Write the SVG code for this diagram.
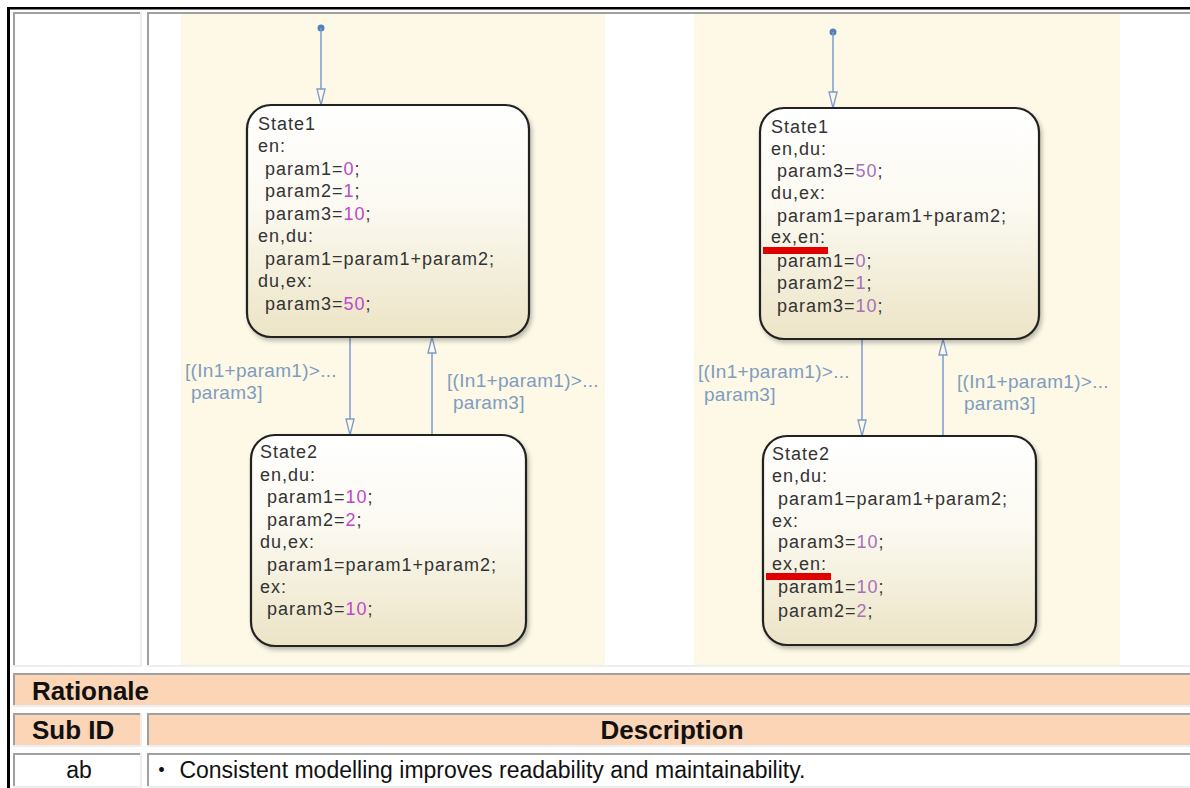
<svg xmlns="http://www.w3.org/2000/svg" width="1190" height="788" viewBox="0 0 1190 788">
<style>
.dk{fill:#a0a0a0}
.lt{fill:#eeeeee}
.peach{fill:#fbd5b5}
.cream{fill:#fdf9e6}
.st{font-family:"Liberation Sans",Arial,sans-serif;font-size:18px;letter-spacing:1px;fill:#333}
.num{fill:#c048c8}
.num2{fill:#a870b8}
.lbl{font-family:"Liberation Sans",Arial,sans-serif;font-size:19px;letter-spacing:0.3px;fill:#7f9cc0}
.box{fill:url(#g);stroke:#222;stroke-width:2.2}
.tr{stroke:#7a9ccc;stroke-width:1.5;fill:none}
.hd{font-family:"Liberation Sans",Arial,sans-serif;font-size:26px;font-weight:bold;fill:#111}
.tx{font-family:"Liberation Sans","Noto Sans CJK JP",Arial,sans-serif;font-size:23px;fill:#111}
.red{fill:#e00000}
</style>
<defs>
<linearGradient id="g" x1="0" y1="0" x2="0" y2="1">
<stop offset="0" stop-color="#ffffff"/>
<stop offset="0.45" stop-color="#fbf9f0"/>
<stop offset="1" stop-color="#ece4c6"/>
</linearGradient>
<filter id="sh" x="-10%" y="-10%" width="130%" height="130%">
<feDropShadow dx="2" dy="3" stdDeviation="2" flood-color="#000" flood-opacity="0.25"/>
</filter>
<marker id="ah" viewBox="0 0 18 10" refX="17" refY="5" markerWidth="18" markerHeight="10" markerUnits="userSpaceOnUse" orient="auto">
<path d="M1,1 L17,5 L1,9 Z" fill="#fdf9e6" stroke="#7a9ccc" stroke-width="1.3"/>
</marker>
</defs>
<rect width="1190" height="788" fill="#ffffff"/>

<g id="table">
<rect x="7" y="7" width="1183" height="2.5" fill="#000"/>
<rect x="7" y="7" width="3" height="781" fill="#000"/>
<!-- row 1 -->
<rect class="dk" x="13" y="12" width="129" height="2"/>
<rect class="dk" x="13" y="12" width="2" height="655"/>
<rect class="lt" x="140" y="12" width="2" height="655"/>
<rect class="lt" x="13" y="665" width="129" height="2"/>
<rect class="dk" x="147" y="12" width="1043" height="2"/>
<rect class="dk" x="147" y="12" width="2" height="655"/>
<rect class="lt" x="147" y="665" width="1043" height="2"/>
<!-- row 2 -->
<rect class="peach" x="13" y="673" width="1177" height="34"/>
<rect class="dk" x="13" y="673" width="1177" height="2"/>
<rect class="dk" x="13" y="673" width="2" height="34"/>
<rect class="lt" x="13" y="705" width="1177" height="2"/>
<!-- row 3 -->
<rect class="peach" x="13" y="713" width="129" height="34"/>
<rect class="dk" x="13" y="713" width="129" height="2"/>
<rect class="dk" x="13" y="713" width="2" height="34"/>
<rect class="lt" x="140" y="713" width="2" height="34"/>
<rect class="lt" x="13" y="745" width="129" height="2"/>
<rect class="peach" x="147" y="713" width="1043" height="34"/>
<rect class="dk" x="147" y="713" width="1043" height="2"/>
<rect class="dk" x="147" y="713" width="2" height="34"/>
<rect class="lt" x="147" y="745" width="1043" height="2"/>
<!-- row 4 -->
<rect class="dk" x="13" y="753" width="129" height="2"/>
<rect class="dk" x="13" y="753" width="2" height="35"/>
<rect class="lt" x="140" y="753" width="2" height="35"/>
<rect class="lt" x="13" y="786" width="129" height="2"/>
<rect class="dk" x="147" y="753" width="1043" height="2"/>
<rect class="dk" x="147" y="753" width="2" height="35"/>
<rect class="lt" x="147" y="786" width="1043" height="2"/>
<text class="hd" x="32" y="700">Rationale</text>
<text class="hd" x="32" y="739">Sub ID</text>
<text class="hd" x="672" y="739" text-anchor="middle">Description</text>
<text class="tx" x="79" y="778" text-anchor="middle">ab</text>
<text class="tx" x="150" y="778">・ Consistent modelling improves readability and maintainability.</text>
</g>

<!-- left chart -->
<rect class="cream" x="181" y="14" width="424" height="651"/>
<g id="left-connectors">
<circle cx="321" cy="28" r="3.5" fill="#4f82c0"/>
<line class="tr" x1="321" y1="28" x2="321" y2="105" marker-end="url(#ah)"/>
<line class="tr" x1="350" y1="337" x2="350" y2="435" marker-end="url(#ah)"/>
<line class="tr" x1="432" y1="435" x2="432" y2="337" marker-end="url(#ah)"/>
<text class="lbl" x="185" y="377">[(In1+param1)&gt;...</text>
<text class="lbl" x="191" y="399">param3]</text>
<text class="lbl" x="447" y="387">[(In1+param1)&gt;...</text>
<text class="lbl" x="453" y="409">param3]</text>
</g>
<g id="left-state1">
<rect class="box" x="247" y="105" width="282" height="232" rx="24" filter="url(#sh)"/>
<text class="st" x="258" y="130">State1</text>
<text class="st" x="258" y="152">en:</text>
<text class="st" x="265" y="175">param1=<tspan class="num">0</tspan>;</text>
<text class="st" x="265" y="197">param2=<tspan class="num">1</tspan>;</text>
<text class="st" x="265" y="220">param3=<tspan class="num">10</tspan>;</text>
<text class="st" x="258" y="242">en,du:</text>
<text class="st" x="265" y="265">param1=param1+param2;</text>
<text class="st" x="258" y="287">du,ex:</text>
<text class="st" x="265" y="310">param3=<tspan class="num">50</tspan>;</text>
</g>
<g id="left-state2">
<rect class="box" x="251" y="435" width="275" height="211" rx="24" filter="url(#sh)"/>
<text class="st" x="260" y="458">State2</text>
<text class="st" x="260" y="481">en,du:</text>
<text class="st" x="267" y="503">param1=<tspan class="num">10</tspan>;</text>
<text class="st" x="267" y="526">param2=<tspan class="num">2</tspan>;</text>
<text class="st" x="260" y="548">du,ex:</text>
<text class="st" x="267" y="571">param1=param1+param2;</text>
<text class="st" x="260" y="593">ex:</text>
<text class="st" x="267" y="615">param3=<tspan class="num">10</tspan>;</text>
</g>

<!-- right chart -->
<rect class="cream" x="694" y="14" width="426" height="651"/>
<g id="right-connectors">
<circle cx="833" cy="32" r="3.5" fill="#4f82c0"/>
<line class="tr" x1="833" y1="32" x2="833" y2="108" marker-end="url(#ah)"/>
<line class="tr" x1="862" y1="339" x2="862" y2="436" marker-end="url(#ah)"/>
<line class="tr" x1="943" y1="436" x2="943" y2="339" marker-end="url(#ah)"/>
<text class="lbl" x="698" y="378">[(In1+param1)&gt;...</text>
<text class="lbl" x="704" y="401">param3]</text>
<text class="lbl" x="957" y="388">[(In1+param1)&gt;...</text>
<text class="lbl" x="964" y="410">param3]</text>
</g>
<g id="right-state1">
<rect class="box" x="760" y="108" width="279" height="231" rx="24" filter="url(#sh)"/>
<text class="st" x="771" y="133">State1</text>
<text class="st" x="771" y="155">en,du:</text>
<text class="st" x="777" y="177">param3=<tspan class="num2">50</tspan>;</text>
<text class="st" x="771" y="199">du,ex:</text>
<text class="st" x="777" y="222">param1=param1+param2;</text>
<text class="st" x="771" y="243">ex,en:</text>
<rect class="red" x="763" y="247" width="65" height="7"/>
<text class="st" x="777" y="267">param1=<tspan class="num2">0</tspan>;</text>
<text class="st" x="777" y="289">param2=<tspan class="num2">1</tspan>;</text>
<text class="st" x="777" y="312">param3=<tspan class="num2">10</tspan>;</text>
</g>
<g id="right-state2">
<rect class="box" x="763" y="436" width="273" height="209" rx="24" filter="url(#sh)"/>
<text class="st" x="772" y="460">State2</text>
<text class="st" x="772" y="482">en,du:</text>
<text class="st" x="778" y="505">param1=param1+param2;</text>
<text class="st" x="772" y="527">ex:</text>
<text class="st" x="778" y="548">param3=<tspan class="num2">10</tspan>;</text>
<text class="st" x="772" y="570">ex,en:</text>
<rect class="red" x="766" y="573" width="65" height="7"/>
<text class="st" x="778" y="593">param1=<tspan class="num2">10</tspan>;</text>
<text class="st" x="778" y="617">param2=<tspan class="num2">2</tspan>;</text>
</g>
</svg>
